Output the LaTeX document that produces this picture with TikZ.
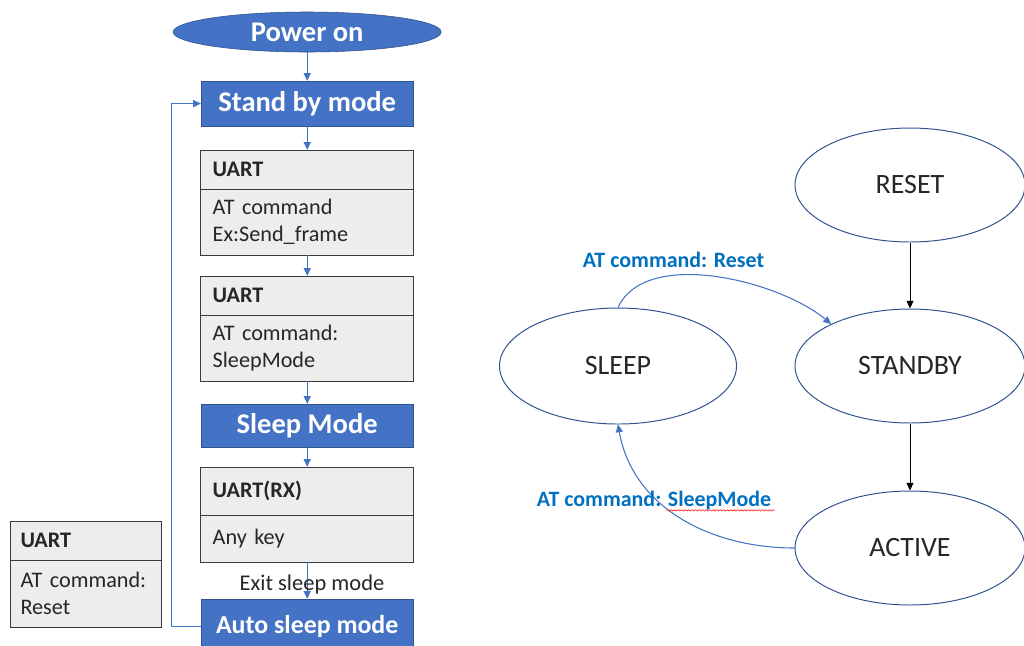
\documentclass[tikz,border=0pt]{standalone}
\usepackage{fontspec}
\setmainfont{Carlito}
\usepackage{xcolor}
\usetikzlibrary{arrows.meta,positioning,shapes.geometric,decorations.pathmorphing}
\definecolor{boxblue}{HTML}{4472C4}
\definecolor{edgeblue}{HTML}{2F528F}
\definecolor{lblblue}{HTML}{0070C0}
\definecolor{boxgray}{HTML}{EDEDED}
\definecolor{boxline}{HTML}{3A3A3A}
\definecolor{textdark}{HTML}{262626}
\tikzset{%
	start/.style    = {draw=edgeblue, fill=boxblue, ellipse, minimum width=6.7cm, minimum height=1cm, inner sep=0pt, text=white, font=\fontsize{20.3}{24}\selectfont\bfseries},
	mode/.style     = {draw=edgeblue, fill=boxblue, rectangle, minimum width=5.3cm, minimum height=1.125cm, text=white, font=\fontsize{20.3}{24}\selectfont\bfseries},
	uarthead/.style = {draw=boxline, fill=boxgray, rectangle, text width=4.725cm, inner xsep=0.3cm, align=left, minimum height=0.975cm, text=textdark, font=\fontsize{15.8}{19.2}\selectfont\bfseries},
	uartbody/.style = {uarthead, minimum height=1.65cm, font=\fontsize{15.8}{19.2}\selectfont},
	state/.style    = {draw=edgeblue, ellipse, line width=0.7pt, minimum width=5.75cm, minimum height=2.85cm, text=textdark, font=\fontsize{19.9}{24}\selectfont},
	flow/.style     = {->, draw=boxblue, line width=0.75pt},
	trans/.style    = {->, draw=black, line width=0.65pt},
	cmd/.style      = {text=lblblue, inner sep=2pt, font=\fontsize{15.6}{19}\selectfont\bfseries},
	note/.style     = {text=textdark, inner sep=1pt, font=\fontsize{16}{19}\selectfont},
	squiggle/.style = {draw=red, line width=0.4pt, decorate, decoration={snake, amplitude=0.5pt, segment length=2.5pt}},
}

\begin{document}
\begin{tikzpicture}[node distance=2.0cm,>={Triangle[length=5.5pt,width=5pt]}]
	\useasboundingbox (0,0) rectangle (25.6,-16.125);
	% flow chart
	\node [start] (pwr) at (7.68,-0.8) {Power on};
	\node [mode] (sb) [below of=pwr,node distance=1.79cm] {Stand by mode};
	\node [uarthead] (u1) [below of=sb,node distance=1.65cm] {UART};
	\node [uartbody] (u1b) [below of=u1,node distance=1.3125cm] {AT command\\Ex:Send\_frame};
	\node [uarthead] (u2) [below of=u1,node distance=3.15cm] {UART};
	\node [uartbody] (u2b) [below of=u2,node distance=1.3125cm] {AT command:\\SleepMode};
	\node [mode] (sm) [below of=u2b,node distance=1.9375cm,minimum height=1.075cm] {Sleep Mode};
	\node [uarthead] (rx) [below of=sm,node distance=1.6375cm,minimum height=1.2cm] {UART(RX)};
	\node [uartbody] (rxb) [below of=rx,node distance=1.1875cm,minimum height=1.175cm] {Any key};
	\node [mode,minimum height=1.35cm,font=\fontsize{18.4}{22}\selectfont\bfseries] (asm) [below of=rxb,node distance=2.1875cm] {Auto sleep mode};
	
	\node [uarthead,text width=3.25cm,inner xsep=0.26cm] (ur) at (2.1375,-13.5125) {UART};
	\node [uartbody,text width=3.25cm,inner xsep=0.26cm,minimum height=1.675cm] (urb) [below of=ur,node distance=1.325cm] {AT command:\\Reset};
	
	\draw[flow] (pwr) -- (sb);
	\draw[flow] (sb) -- (u1);
	\draw[flow] (u1b) -- (u2);
	\draw[flow] (u2b) -- (sm);
	\draw[flow] (sm) -- (rx);
	\draw[flow] (rxb) -- node[note,xshift=0.12cm,yshift=-0.1cm] {Exit sleep mode} (asm);
	\draw[flow] (asm.west) -- ++(-0.725,0) |- (sb.west);
	
	% state machine
	\node [state] (rst) at (22.75,-4.625) {RESET};
	\node [state] (stb) [below of=rst,node distance=4.525cm] {STANDBY};
	\node [state] (act) [below of=stb,node distance=4.55cm] {ACTIVE};
	\node [state,minimum width=5.925cm,minimum height=2.9cm] (slp) [left of=stb,node distance=7.3cm] {SLEEP};
	
	\draw[trans] (rst) -- (stb);
	\draw[trans] (stb) -- (act);
	\draw[flow] (slp.north) to[out=65,in=140,looseness=0.8] node[cmd,pos=0.35,above,xshift=-0.12cm,yshift=0.1cm] {AT command: Reset} (stb.152);
	\draw[flow] (act.west) to[out=180,in=-80] node[cmd,pos=0.65,yshift=-0.12cm] (lsm) {AT command: SleepMode} (slp.south);
	\draw[squiggle] ([xshift=0.31cm,yshift=-2.5pt]lsm.base) -- ([yshift=-2.5pt]lsm.base east);
\end{tikzpicture}
\end{document}
